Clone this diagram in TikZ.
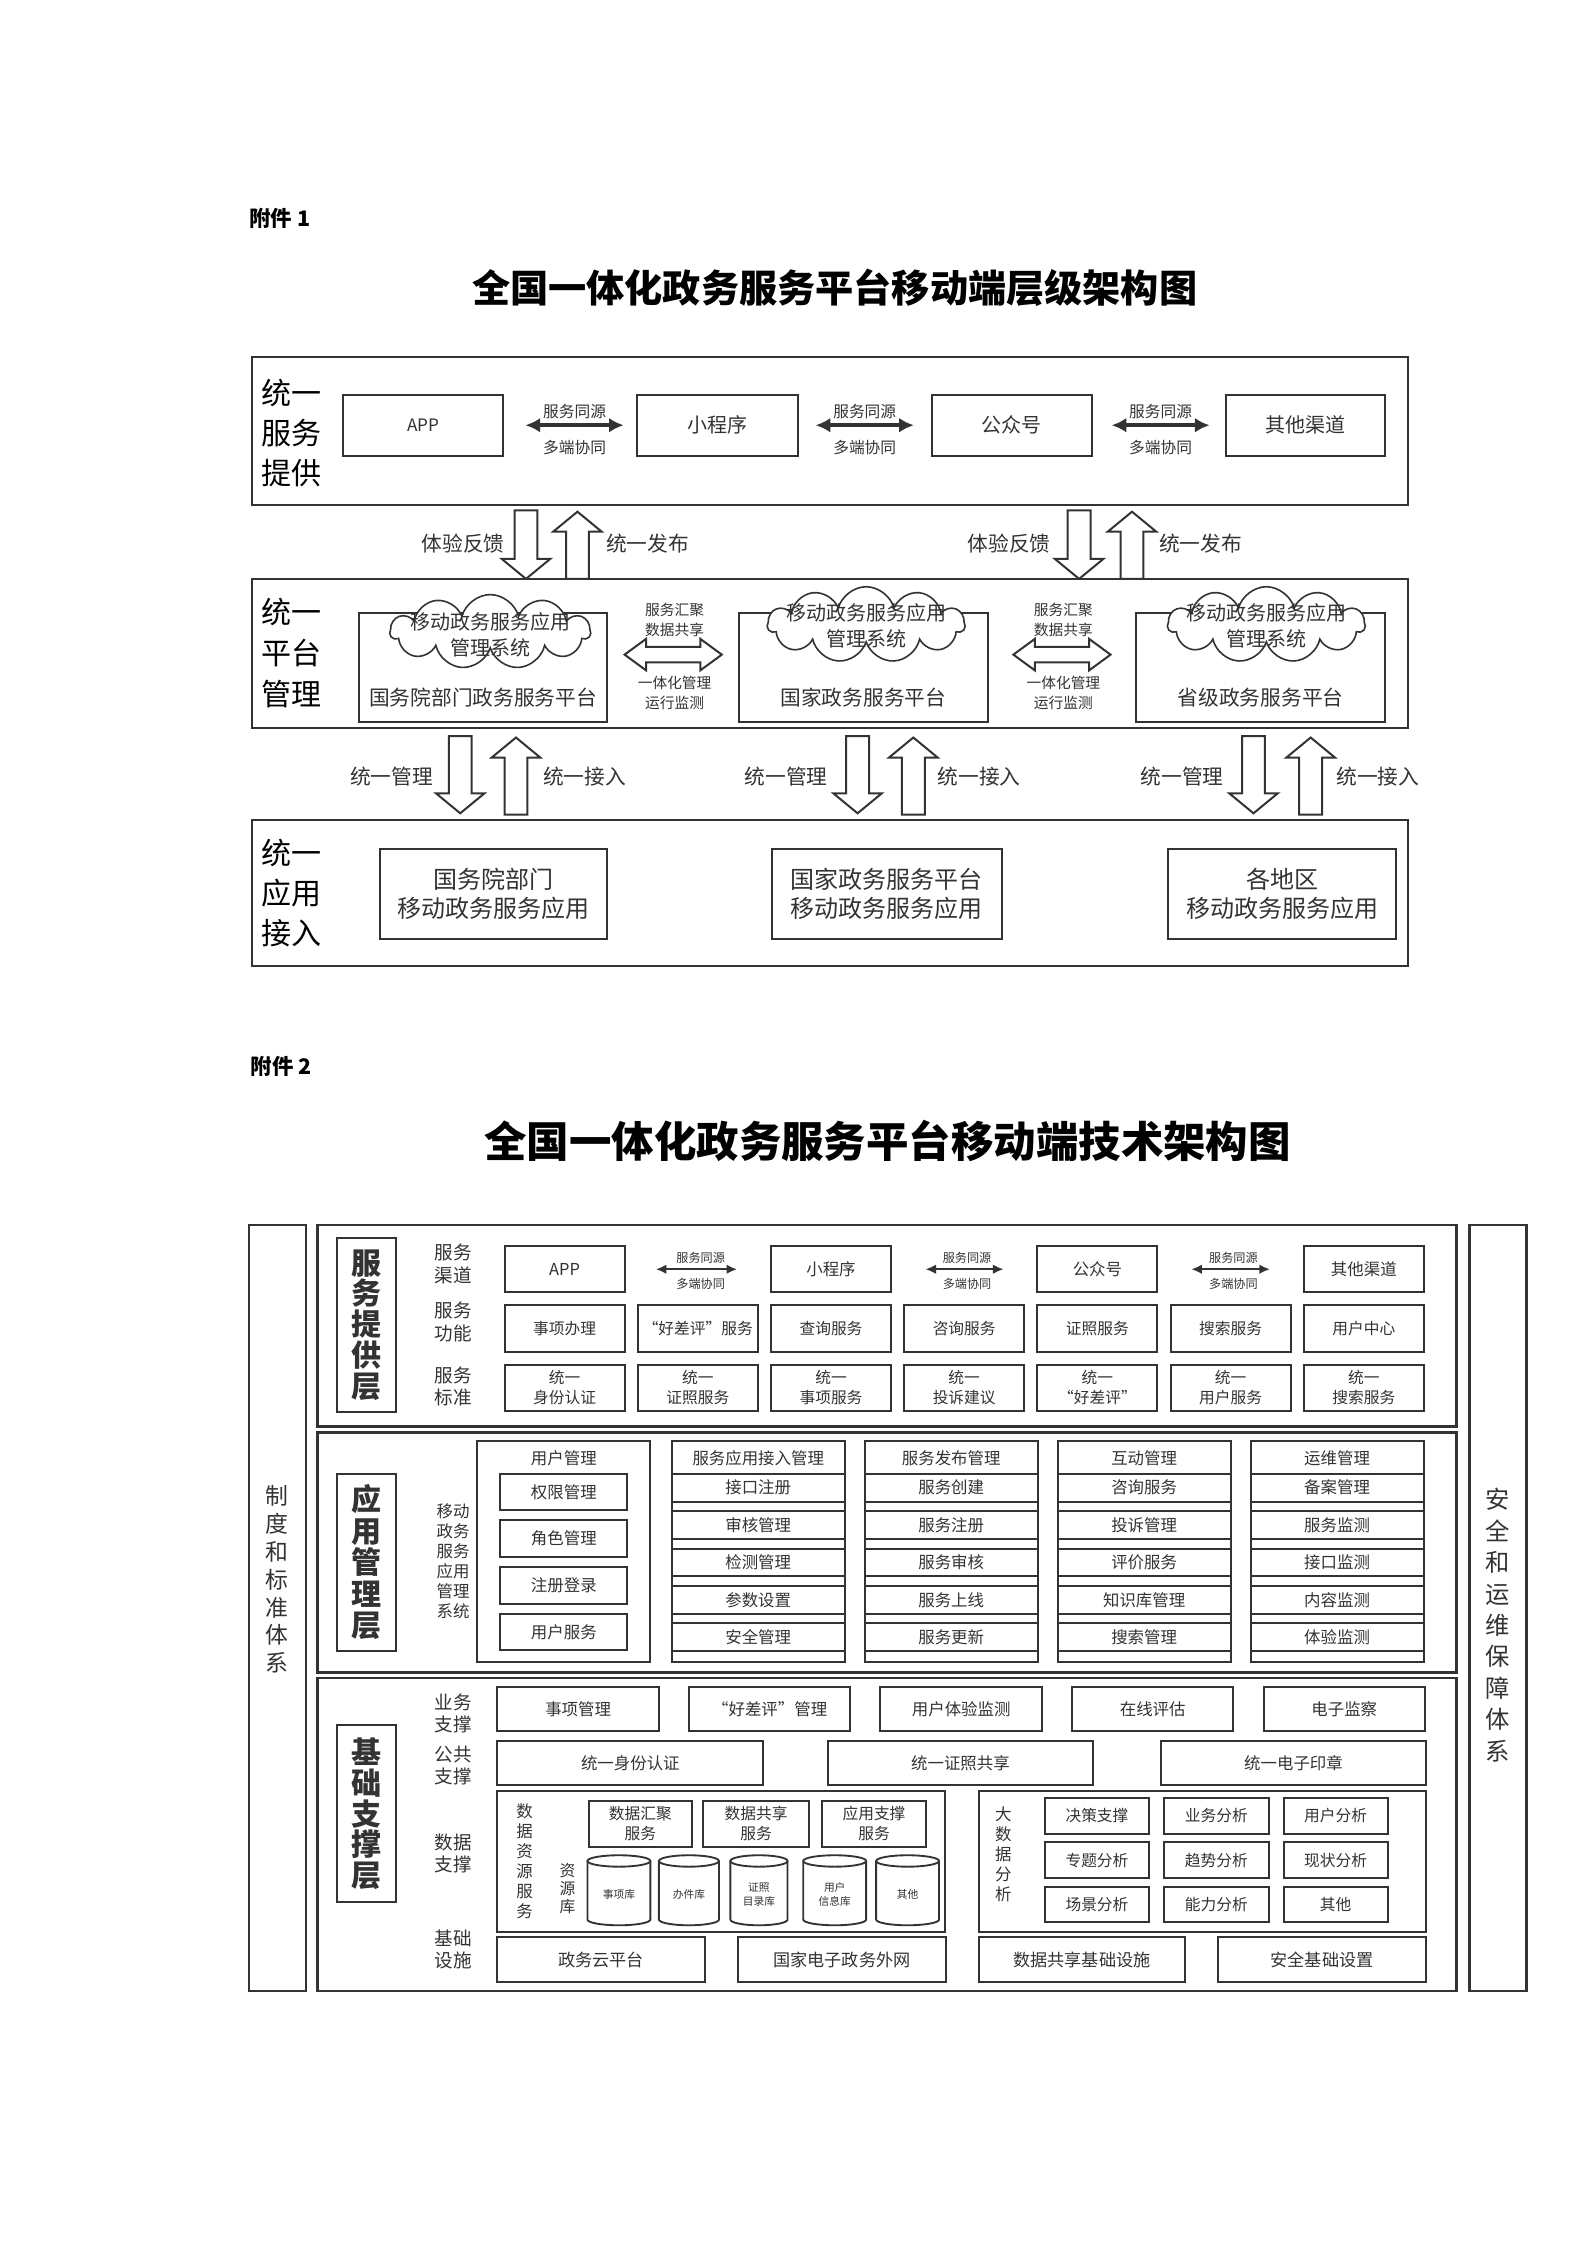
\documentclass[tikz,border=0pt]{standalone}
\usepackage{fontspec}
\setmainfont{Noto Sans CJK SC}
\usetikzlibrary{shapes.symbols,arrows.meta}
\newdimen\uu \uu=0.5363pt
\newcommand\fs[2]{\fontsize{#1\uu}{#2\uu}\selectfont}
\colorlet{ink}{black!80}
\colorlet{txt}{black!80}
\tikzset{
 bx/.style={draw=ink, line width=0.75pt, fill=white, inner sep=0pt, align=center, text=txt},
 lbl/.style={inner sep=0pt, align=center, text=txt},
 blk/.style={draw=ink, line width=0.75pt, fill=white, line join=miter},
 thinarr/.style={ink, line width=1.3pt, {Latex[length=5.5pt,width=5.5pt]}-{Latex[length=5.5pt,width=5.5pt]}},
 smallarr/.style={ink, line width=0.9pt, {Latex[length=4pt,width=3.6pt]}-{Latex[length=4pt,width=3.6pt]}},
 cloudy/.style={cloud, cloud puffs=11, aspect=2.7, draw=ink, fill=white, line width=0.6pt, inner sep=0pt},
}
\newcommand\rbox[7][]{\node[bx,minimum width={(#5-#3)*\uu},minimum height={(#6-#4)*\uu},#1] (#2) at ({(#3+#5)/2},{(#4+#6)/2}) {#7};}
\newcommand\darr[3]{\draw[blk] ({#1-8},#2) -- ({#1+8},#2) -- ({#1+8},{#3-14}) -- ({#1+17},{#3-14}) -- (#1,#3) -- ({#1-17},{#3-14}) -- ({#1-8},{#3-14}) -- cycle;}
\newcommand\uarr[3]{\draw[blk] ({#1-8},#3) -- ({#1+8},#3) -- ({#1+8},{#2+14}) -- ({#1+17},{#2+14}) -- (#1,#2) -- ({#1-17},{#2+14}) -- ({#1-8},{#2+14}) -- cycle;}
\newcommand\hdarr[3]{\draw[blk] (#1,#3) -- ({#1+15},{#3-11}) -- ({#1+15},{#3-5.5}) -- ({#2-15},{#3-5.5}) -- ({#2-15},{#3-11}) -- (#2,#3) -- ({#2-15},{#3+11}) -- ({#2-15},{#3+5.5}) -- ({#1+15},{#3+5.5}) -- ({#1+15},{#3+11}) -- cycle;}
\newcommand\cyl[6]{%
 \draw[ink, line width=0.7pt, fill=white] (#2,{#3+4}) -- (#2,{#5-4}) arc[start angle=180,end angle=0,x radius={(#4-#2)/2},y radius=4] -- (#4,{#3+4});
 \draw[ink, line width=0.7pt, fill=white] ({(#2+#4)/2},{#3+4}) ellipse [x radius={(#4-#2)/2}, y radius=4];
 \node[lbl,font=\fs{7.5}{9.5}] (#1) at ({(#2+#4)/2},{(#3+#5)/2+3}) {#6};}
\begin{document}
\begin{tikzpicture}[x=\uu,y=-\uu]
\fill[white] (0,0) rectangle (1110,1570);
\useasboundingbox (0,0) rectangle (1110,1570);

% ================= Part 1 =================
\node[lbl, font=\bfseries\fs{15}{18}, anchor=west, text=black] (fj1) at (174,153) {附件 1};
\node[lbl, font=\bfseries\fs{26.7}{30}, text=black] (t1) at (584,201) {全国一体化政务服务平台移动端层级架构图};

% layer A
\rbox{la}{176}{250}{985}{353}{}
\node[lbl, font=\fs{21}{28}, text=black] (lat) at (204,303) {统一\\服务\\提供};
\rbox[font=\fs{12}{14}]{app}{240}{276}{352}{319}{APP}
\rbox[font=\fs{14}{16}]{mini}{446}{276}{558}{319}{小程序}
\rbox[font=\fs{14}{16}]{gzh}{652}{276}{764}{319}{公众号}
\rbox[font=\fs{14}{16}]{qt}{858}{276}{969}{319}{其他渠道}
\draw[thinarr, shorten <=8pt, shorten >=4.8pt] (app) -- (mini);
\draw[thinarr, shorten <=6.4pt, shorten >=6.4pt] (mini) -- (gzh);
\draw[thinarr, shorten <=7pt, shorten >=5.9pt] (gzh) -- (qt);
\foreach \cx/\nm in {402/a, 605/b, 812/c}{
 \node[lbl, font=\fs{11}{13}] (ty\nm) at (\cx,288) {服务同源};
 \node[lbl, font=\fs{11}{13}] (dd\nm) at (\cx,313) {多端协同};
}

% arrows A-B
\darr{368}{357}{405} \uarr{404}{358}{405}
\darr{755}{357}{405} \uarr{792}{358}{405}
\node[lbl, font=\fs{14.5}{17}] (fk1) at (324,380) {体验反馈};
\node[lbl, font=\fs{14.5}{17}] (fb1) at (453,380) {统一发布};
\node[lbl, font=\fs{14.5}{17}] (fk2) at (706,380) {体验反馈};
\node[lbl, font=\fs{14.5}{17}] (fb2) at (840,380) {统一发布};

% layer B
\rbox{lb}{176}{405}{985}{509}{}
\node[lbl, font=\fs{21}{28.5}, text=black] (lbt) at (204,457) {统一\\平台\\管理};
\rbox{pb1}{251}{429}{425}{505}{}
\rbox{pb2}{517}{429}{691}{505}{}
\rbox{pb3}{795}{429}{969}{505}{}
\node[cloudy, minimum width={140*\uu}, minimum height={52*\uu}] (c1) at (343,442) {};
\node[cloudy, minimum width={138*\uu}, minimum height={53*\uu}] (c2) at (606,437) {};
\node[cloudy, minimum width={138*\uu}, minimum height={53*\uu}] (c3) at (886,437) {};
\node[lbl, font=\fs{14}{18}] (c1t) at (343,444) {移动政务服务应用\\管理系统};
\node[lbl, font=\fs{14}{18}] (c2t) at (606,438) {移动政务服务应用\\管理系统};
\node[lbl, font=\fs{14}{18}] (c3t) at (886,438) {移动政务服务应用\\管理系统};
\node[lbl, font=\fs{14.5}{17}] (pb1t) at (338,488) {国务院部门政务服务平台};
\node[lbl, font=\fs{14.5}{17}] (pb2t) at (604,488) {国家政务服务平台};
\node[lbl, font=\fs{14.5}{17}] (pb3t) at (882,488) {省级政务服务平台};
\hdarr{437}{505}{458}
\hdarr{709}{777}{458}
\node[lbl, font=\fs{10.3}{14}] (hj1) at (472,434) {服务汇聚\\数据共享};
\node[lbl, font=\fs{10.3}{14}] (yt1) at (472,485) {一体化管理\\运行监测};
\node[lbl, font=\fs{10.3}{14}] (hj2) at (744,434) {服务汇聚\\数据共享};
\node[lbl, font=\fs{10.3}{14}] (yt2) at (744,485) {一体化管理\\运行监测};

% arrows B-C
\darr{322}{515}{569} \uarr{361}{516}{570}
\darr{600}{515}{569} \uarr{639}{516}{570}
\darr{877}{515}{569} \uarr{917}{516}{570}
\foreach \xa/\xb/\nm in {274/409/a, 550/685/b, 827/964/c}{
 \node[lbl, font=\fs{14.5}{17}] (gl\nm) at (\xa,543) {统一管理};
 \node[lbl, font=\fs{14.5}{17}] (jr\nm) at (\xb,543) {统一接入};
}

% layer C
\rbox{lc}{176}{574}{985}{676}{}
\node[lbl, font=\fs{21}{28}, text=black] (lct) at (204,625) {统一\\应用\\接入};
\rbox[font=\fs{16.8}{20}]{ac1}{266}{594}{425}{657}{国务院部门\\移动政务服务应用}
\rbox[font=\fs{16.8}{20}]{ac2}{540}{594}{701}{657}{国家政务服务平台\\移动政务服务应用}
\rbox[font=\fs{16.8}{20}]{ac3}{817}{594}{977}{657}{各地区\\移动政务服务应用}

% ================= Part 2 =================
\node[lbl, font=\bfseries\fs{15}{18}, anchor=west, text=black] (fj2) at (175,746) {附件 2};
\node[lbl, font=\bfseries\fs{29.7}{33}, text=black] (t2) at (621,798) {全国一体化政务服务平台移动端技术架构图};

\rbox[line width=0.9pt]{zd}{174}{857}{214}{1393}{}
\node[lbl, font=\fs{16}{19.5}] (zdt) at (194,1105) {制\\度\\和\\标\\准\\体\\系};
\rbox[line width=0.9pt]{aq}{1028}{857}{1068}{1393}{}
\node[lbl, font=\fs{17}{22}] (aqt) at (1048,1137) {安\\全\\和\\运\\维\\保\\障\\体\\系};

\rbox[line width=1pt]{L1}{222}{857}{1019}{998}{}
\rbox[line width=1pt]{L2}{222}{1002}{1019}{1170}{}
\rbox[line width=1pt]{L3}{222}{1174}{1019}{1393}{}

% ---- layer 1
\rbox[font=\bfseries\fs{21}{21.5}]{L1t}{236}{866}{277}{988}{服\\务\\提\\供\\层}
\node[lbl, font=\fs{13}{16}] (rl1) at (317,884) {服务\\渠道};
\node[lbl, font=\fs{13}{16}] (rl2) at (317,925) {服务\\功能};
\node[lbl, font=\fs{13}{16}] (rl3) at (317,970) {服务\\标准};
\foreach \t/\c in {APP/1, 小程序/3, 公众号/5, 其他渠道/7}{
 \pgfmathsetmacro\xa{353+93.2*(\c-1)}
 \rbox[font=\fs{11.5}{14}]{r1-\c}{\xa}{872}{\xa+84}{904}{\t}
}
\draw[smallarr, shorten <=11.3pt, shorten >=12.3pt] (r1-1) -- (r1-3);
\draw[smallarr, shorten <=12.5pt, shorten >=12.3pt] (r1-3) -- (r1-5);
\draw[smallarr, shorten <=12.3pt, shorten >=12.3pt] (r1-5) -- (r1-7);
\foreach \c in {2,4,6}{
 \pgfmathsetmacro\xc{353+93.2*(\c-1)+44}
 \node[lbl, font=\fs{8.5}{10}] (tyy\c) at (\xc,880) {服务同源};
 \node[lbl, font=\fs{8.5}{10}] (ddd\c) at (\xc,898) {多端协同};
}
\foreach \t [count=\c] in {事项办理, “好差评”服务, 查询服务, 咨询服务, 证照服务, 搜索服务, 用户中心}{
 \pgfmathsetmacro\xa{353+93.2*(\c-1)}
 \rbox[font=\fs{11}{14}]{r2-\c}{\xa}{913}{\xa+84}{946}{\t}
}
\foreach \t [count=\c] in {身份认证, 证照服务, 事项服务, 投诉建议, “好差评”, 用户服务, 搜索服务}{
 \pgfmathsetmacro\xa{353+93.2*(\c-1)}
 \rbox[font=\fs{11}{14}]{r3-\c}{\xa}{955}{\xa+84}{987}{统一\\\t}
}

% ---- layer 2
\rbox[font=\bfseries\fs{21}{22}]{L2t}{236}{1031}{277}{1155}{应\\用\\管\\理\\层}
\node[lbl, font=\fs{11.5}{14}] (ydxt) at (317,1092) {移动\\政务\\服务\\应用\\管理\\系统};
\rbox{g334}{334}{1008}{455}{1163}{}
\node[lbl, font=\fs{11.5}{14}] (g334t) at (394.5,1020) {用户管理};
\foreach \t [count=\k] in {权限管理, 角色管理, 注册登录, 用户服务}{
 \pgfmathsetmacro\yy{1031+32.7*(\k-1)}
 \rbox[font=\fs{11.5}{14}]{g334-\k}{350}{\yy}{439}{\yy+25.5}{\t}
}
\foreach \gx/\gt/\ia/\ib/\ic/\id/\ie in {
 470/服务应用接入管理/接口注册/审核管理/检测管理/参数设置/安全管理,
 605/服务发布管理/服务创建/服务注册/服务审核/服务上线/服务更新,
 740/互动管理/咨询服务/投诉管理/评价服务/知识库管理/搜索管理,
 875/运维管理/备案管理/服务监测/接口监测/内容监测/体验监测}{
 \rbox{g\gx}{\gx}{1008}{\gx+121}{1163}{}
 \node[lbl, font=\fs{11.5}{14}] (g\gx t) at (\gx+60.5,1020) {\gt};
 \foreach \t [count=\k] in {\ia,\ib,\ic,\id,\ie}{
  \pgfmathsetmacro\yy{1031+26.2*(\k-1)}
  \rbox[font=\fs{11.5}{14}]{g\gx-\k}{\gx+16}{\yy}{\gx+105}{\yy+19.5}{\t}
 }
}

% ---- layer 3
\rbox[font=\bfseries\fs{21}{21.5}]{L3t}{236}{1207}{277}{1331}{基\\础\\支\\撑\\层}
\node[lbl, font=\fs{13}{15.5}] (yw) at (317,1198.5) {业务\\支撑};
\node[lbl, font=\fs{13}{15.5}] (gg) at (317,1235.5) {公共\\支撑};
\node[lbl, font=\fs{13}{15.5}] (sj) at (317,1296.5) {数据\\支撑};
\node[lbl, font=\fs{13}{15.5}] (jc) at (317,1364) {基础\\设施};
\foreach \t [count=\c] in {事项管理, “好差评”管理, 用户体验监测, 在线评估, 电子监察}{
 \pgfmathsetmacro\xa{348+134*(\c-1)}
 \rbox[font=\fs{11.5}{14}]{yw-\c}{\xa}{1180}{\xa+113}{1211}{\t}
}
\rbox[font=\fs{11.5}{14}]{gg1}{348}{1218}{534}{1249}{统一身份认证}
\rbox[font=\fs{11.5}{14}]{gg2}{579}{1218}{765}{1249}{统一证照共享}
\rbox[font=\fs{11.5}{14}]{gg3}{812}{1218}{998}{1249}{统一电子印章}

\rbox{sjl}{348}{1253}{661}{1352}{}
\rbox{sjr}{685}{1253}{998}{1352}{}
\node[lbl, font=\fs{11.5}{14}] (sjzy) at (367,1302) {数\\据\\资\\源\\服\\务};
\node[lbl, font=\fs{11}{12.5}] (zyk) at (397,1321.5) {资\\源\\库};
\rbox[font=\fs{11}{14}]{fw1}{412}{1260}{484}{1292}{数据汇聚\\服务}
\rbox[font=\fs{11}{14}]{fw2}{492}{1260}{566}{1292}{数据共享\\服务}
\rbox[font=\fs{11}{14}]{fw3}{575}{1260}{648}{1292}{应用支撑\\服务}
\cyl{k1}{411}{1298}{455}{1347}{事项库}
\cyl{k2}{461}{1298}{503}{1347}{办件库}
\cyl{k3}{511}{1298}{551}{1347}{证照\\目录库}
\cyl{k4}{562}{1298}{606}{1347}{用户\\信息库}
\cyl{k5}{613}{1298}{657}{1347}{其他}
\node[lbl, font=\fs{11.5}{14}] (dsj) at (702,1297) {大\\数\\据\\分\\析};
\foreach \t [count=\c] in {决策支撑, 业务分析, 用户分析, 专题分析, 趋势分析, 现状分析, 场景分析, 能力分析, 其他}{
 \pgfmathtruncatemacro\col{mod(\c-1,3)}
 \pgfmathtruncatemacro\row{div(\c-1,3)}
 \pgfmathsetmacro\xa{731+83.5*\col}
 \pgfmathsetmacro\ya{1258+31*\row}
 \rbox[font=\fs{11}{14}]{fx-\c}{\xa}{\ya}{\xa+73}{\ya+25}{\t}
}
\rbox[font=\fs{12}{14}]{jc1}{348}{1355}{493}{1387}{政务云平台}
\rbox[font=\fs{12}{14}]{jc2}{516}{1355}{662}{1387}{国家电子政务外网}
\rbox[font=\fs{12}{14}]{jc3}{685}{1355}{829}{1387}{数据共享基础设施}
\rbox[font=\fs{12}{14}]{jc4}{852}{1355}{998}{1387}{安全基础设置}
\end{tikzpicture}
\end{document}
